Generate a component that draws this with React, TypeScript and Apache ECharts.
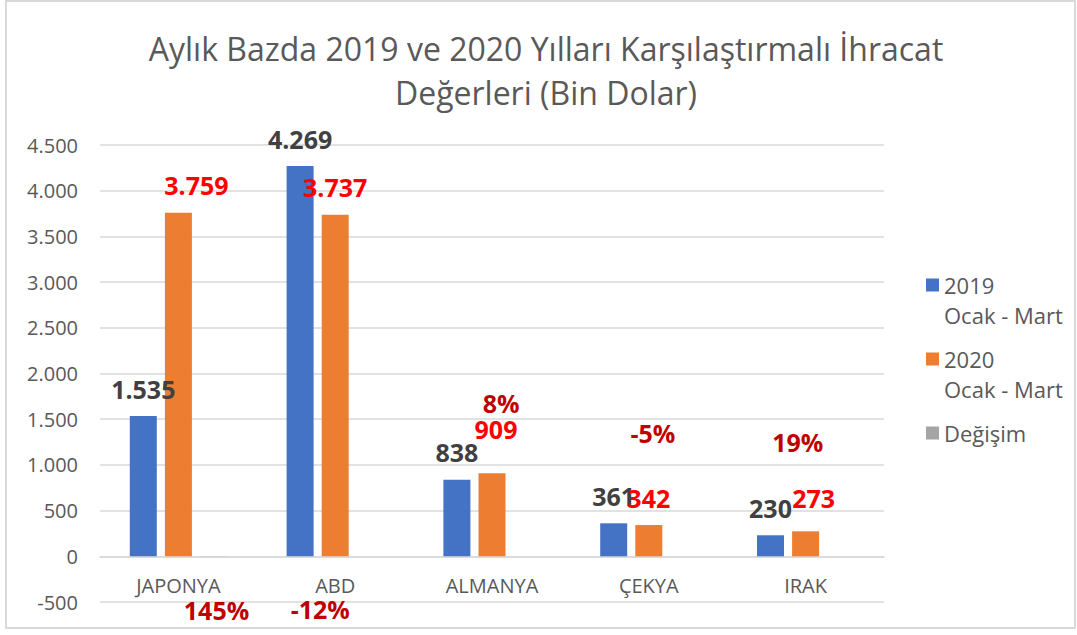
import React, { useEffect, useRef } from 'react';
import * as echarts from 'echarts';

const categories = ['JAPONYA', 'ABD', 'ALMANYA', 'ÇEKYA', 'IRAK'];
const exports2019 = [1535, 4269, 838, 361, 230];
const exports2020 = [3759, 3737, 909, 342, 273];
const changeRatio = [1.45, -0.12, 0.08, -0.05, 0.19];
const seriesNames = ['2019\nOcak - Mart', '2020\nOcak - Mart', 'Değişim'];
const titleText = 'Aylık Bazda 2019 ve 2020 Yılları Karşılaştırmalı İhracat\nDeğerleri (Bin Dolar)';
const yMin = -500;
const yMax = 4500;
const yStep = 500;

const FONT = "'Open Sans', sans-serif";
const GRAY_TEXT = '#595959';
const GRID_COLOR = '#D9D9D9';

const thousands = (v: number) => {
  const s = Math.abs(Math.round(v)).toString().replace(/\B(?=(\d{3})+(?!\d))/g, '.');
  return (v < 0 ? '-' : '') + s;
};

// label nudges (layout only)
const offs2020 = [[18, 0], [0, 0], [4, -17], [0, 0], [8, -6]];
const offsChange = [[3, 54], [-50, 53], [-26, -153], [-31, -123], [-43, -114]];

export default function App() {
  const ref = useRef<HTMLDivElement>(null);
  useEffect(() => {
    const chart = echarts.init(ref.current!, null, { renderer: 'svg' });
    const labelBase = { fontFamily: FONT, fontSize: 25, fontWeight: 'bold' as const };
    const legendCommon = {
      orient: 'vertical' as const,
      left: 926,
      padding: 0,
      itemWidth: 13,
      itemHeight: 13,
      icon: 'rect',
      textStyle: { fontFamily: FONT, fontSize: 22, color: GRAY_TEXT, lineHeight: 30 },
    };
    const option = {
      animation: false,
      backgroundColor: '#ffffff',
      title: {
        text: titleText,
        left: 546,
        textAlign: 'center',
        top: 26,
        padding: 0,
        textStyle: { fontFamily: FONT, fontSize: 32, fontWeight: 'normal', color: GRAY_TEXT, lineHeight: 44 },
      },
      legend: [
        { ...legendCommon, top: 240, formatter: (n: string) => '\n' + n, data: [{ name: seriesNames[0] }] },
        { ...legendCommon, top: 314, formatter: (n: string) => '\n' + n, data: [{ name: seriesNames[1] }] },
        { ...legendCommon, top: 418, data: [{ name: seriesNames[2] }] },
      ],
      grid: { left: 100, right: 193, top: 145, bottom: 33, containLabel: false, outerBoundsMode: 'none' },
      xAxis: {
        type: 'category',
        data: categories,
        axisTick: { show: false },
        axisLine: { onZero: true, lineStyle: { color: GRID_COLOR, width: 1.5 } },
        axisLabel: { fontFamily: FONT, fontSize: 20, color: GRAY_TEXT, margin: -27 },
      },
      yAxis: {
        type: 'value',
        min: yMin,
        max: yMax,
        interval: yStep,
        axisLine: { show: false },
        axisTick: { show: false },
        splitLine: { lineStyle: { color: GRID_COLOR, width: 1.5 } },
        axisLabel: { fontFamily: FONT, fontSize: 20, color: GRAY_TEXT, margin: 22, formatter: (v: number) => thousands(v) },
      },
      graphic: [
        {
          type: 'rect',
          shape: { x: 6, y: 1, width: 1069, height: 627 },
          style: { fill: 'none', stroke: GRID_COLOR, lineWidth: 2 },
          silent: true,
        },
      ],
      series: [
        {
          name: seriesNames[0],
          type: 'bar',
          barWidth: 27,
          barGap: '30%',
          itemStyle: { color: '#4472C4' },
          label: { show: true, position: 'top', distance: 15, color: '#404040', ...labelBase, formatter: (p: any) => thousands(p.value) },
          data: exports2019,
        },
        {
          name: seriesNames[1],
          type: 'bar',
          barWidth: 27,
          barGap: '30%',
          itemStyle: { color: '#ED7D31' },
          data: exports2020.map((v, i) => ({
            value: v,
            label: { show: true, position: 'top', distance: 15, offset: offs2020[i], color: '#FF0000', ...labelBase, formatter: (p: any) => thousands(p.value) },
          })),
        },
        {
          name: seriesNames[2],
          type: 'bar',
          barWidth: 27,
          barGap: '30%',
          itemStyle: { color: '#A5A5A5' },
          data: changeRatio.map((v, i) => ({
            value: v,
            label: { show: true, position: 'inside', offset: offsChange[i], color: '#C00000', ...labelBase, formatter: (p: any) => Math.round(p.value * 100) + '%' },
          })),
        },
      ],
    };
    chart.setOption(option as any);
    return () => chart.dispose();
  }, []);
  return <div ref={ref} style={{ position: 'absolute', left: 0, top: 0, width: 1077, height: 635 }} />;
}
